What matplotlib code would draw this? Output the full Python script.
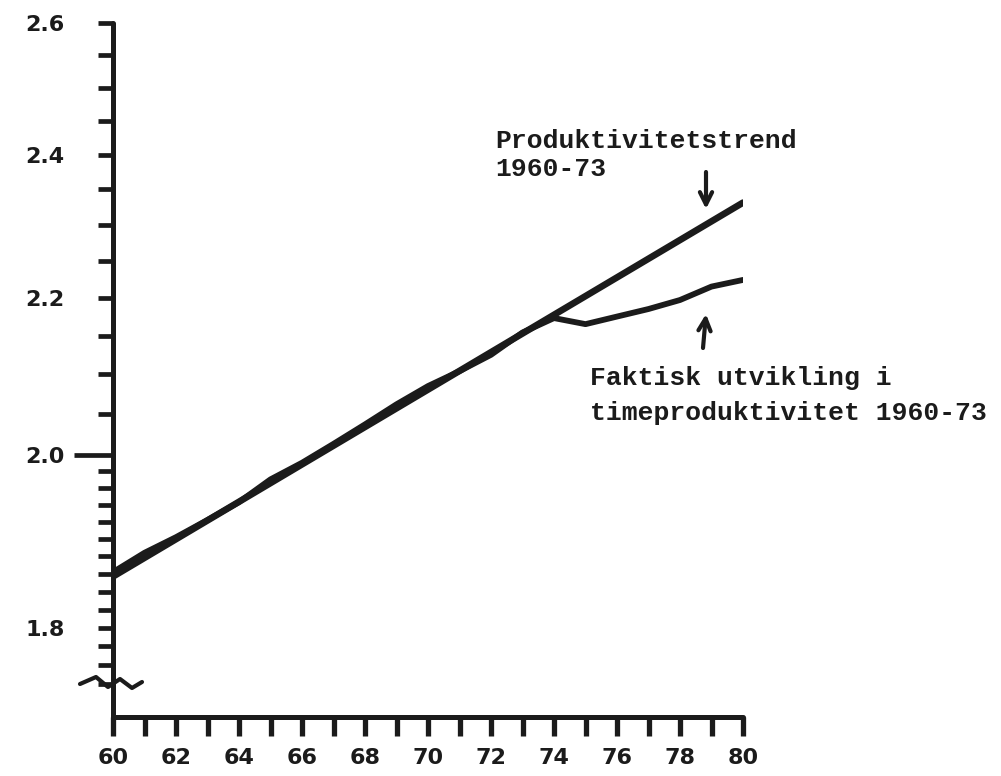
import matplotlib
matplotlib.use("Agg")
import matplotlib.pyplot as plt
from matplotlib.ticker import FixedLocator, NullFormatter, FixedFormatter

# ---------------- data ----------------
years = [1960, 1961, 1962, 1963, 1964, 1965, 1966, 1967, 1968, 1969, 1970,
         1971, 1972, 1973, 1974, 1975, 1976, 1977, 1978, 1979, 1980]
actual = [1.862, 1.884, 1.902, 1.922, 1.943, 1.970, 1.990, 2.013, 2.037, 2.062, 2.085,
          2.104, 2.125, 2.154, 2.173, 2.165, 2.175, 2.185, 2.197, 2.215, 2.224]
trend_years = [1960, 1980]
trend_values = [1.857, 2.331]

x_major = [1960, 1962, 1964, 1966, 1968, 1970, 1972, 1974, 1976, 1978, 1980]
x_labels = ["60", "62", "64", "66", "68", "70", "72", "74", "76", "78", "80"]
x_minor = [1961, 1963, 1965, 1967, 1969, 1971, 1973, 1975, 1977, 1979]

y_major = [1.8, 2.0, 2.2, 2.4, 2.6]
y_labels = ["1.8", "2.0", "2.2", "2.4", "2.6"]
y_minor = [1.74, 1.76, 1.78, 1.82, 1.84, 1.86, 1.88, 1.90, 1.92, 1.94, 1.96, 1.98,
           2.05, 2.10, 2.15, 2.25, 2.30, 2.35, 2.45, 2.50, 2.55]

label_trend = ["Produktivitetstrend", "1960-73"]
label_actual = ["Faktisk utvikling i", "timeproduktivitet 1960-73"]

# ---------------- figure ----------------
W, H = 1001, 776
INK = "#1b1b1b"
fig = plt.figure(figsize=(W / 100, H / 100), dpi=100)
fig.patch.set_facecolor("white")

def fx(x):
    return x / W

def fy(y):
    return 1 - y / H

ax = fig.add_axes([fx(113), fy(717), fx(743) - fx(113), fy(23) - fy(717)])
ax.set_yscale("log")
ax.set_xlim(1960, 1980)
ax.set_ylim(1.705, 2.6)

ax.plot(trend_years, trend_values, color=INK, lw=4.8, solid_capstyle="round", zorder=3)
ax.plot(years, actual, color=INK, lw=4.2, solid_capstyle="round",
        solid_joinstyle="round", zorder=3)

for s in ("top", "right"):
    ax.spines[s].set_visible(False)
for s in ("left", "bottom"):
    ax.spines[s].set_linewidth(3.6)
    ax.spines[s].set_color(INK)
    ax.spines[s].set_capstyle("round")

ax.xaxis.set_major_locator(FixedLocator(x_major))
ax.xaxis.set_major_formatter(FixedFormatter(x_labels))
ax.xaxis.set_minor_locator(FixedLocator(x_minor))
ax.xaxis.set_minor_formatter(NullFormatter())

ax.yaxis.set_major_locator(FixedLocator(y_major))
ax.yaxis.set_major_formatter(FixedFormatter(y_labels))
ax.yaxis.set_minor_locator(FixedLocator(y_minor))
ax.yaxis.set_minor_formatter(NullFormatter())

tick_font = dict(family="DejaVu Sans", weight="bold", size=16)
ax.tick_params(axis="x", which="both", direction="out", length=14, width=3.8,
               color=INK, pad=8)
ax.tick_params(axis="y", which="both", direction="out", length=11, width=3.4,
               color=INK, pad=24)
for lab in ax.get_xticklabels() + ax.get_yticklabels():
    lab.set_fontfamily(tick_font["family"])
    lab.set_fontweight(tick_font["weight"])
    lab.set_fontsize(tick_font["size"])
    lab.set_color(INK)

# the 2.0 tick is drawn longer
for t in ax.yaxis.get_major_ticks():
    if abs(t.get_loc() - 2.0) < 1e-9:
        t.tick1line.set_markersize(28)

# axis break mark near the bottom of the y axis
bx = [80, 96, 108, 120, 132, 142]
by = [684, 677, 687, 679, 688, 682]
fig.add_artist(plt.Line2D([fx(v) for v in bx], [fy(v) for v in by],
                          transform=fig.transFigure, color=INK, lw=3.0,
                          solid_joinstyle="round", solid_capstyle="round"))

# annotations
txt = dict(family="Liberation Mono", weight="bold", size=19, color=INK,
           ha="left", va="baseline")
fig.text(fx(495), fy(148), label_trend[0], **txt)
fig.text(fx(495), fy(176), label_trend[1], **txt)
fig.text(fx(590), fy(385), label_actual[0], **txt)
fig.text(fx(590), fy(420), label_actual[1], **txt)

arrow = dict(arrowstyle="->", lw=3.0, color=INK, mutation_scale=22,
             shrinkA=0, shrinkB=0)
fig.add_artist(matplotlib.patches.FancyArrowPatch(
    (fx(706), fy(172)), (fx(706), fy(209)), transform=fig.transFigure, **arrow))
fig.add_artist(matplotlib.patches.FancyArrowPatch(
    (fx(703), fy(348)), (fx(706), fy(314)), transform=fig.transFigure, **arrow))

fig.savefig("out.png", dpi=100, facecolor="white")
